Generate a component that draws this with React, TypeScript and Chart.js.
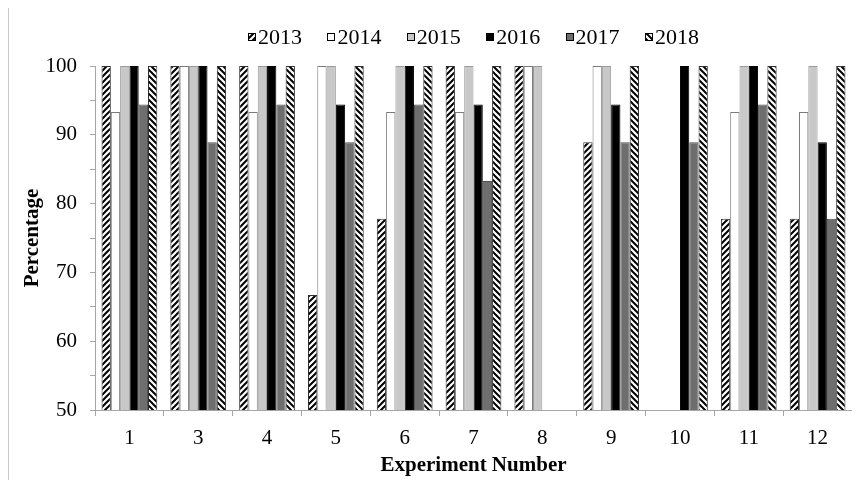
import React, { useEffect, useRef } from 'react';
import { Chart, registerables } from 'chart.js';

Chart.register(...registerables);

const categories = ['1', '3', '4', '5', '6', '7', '8', '9', '10', '11', '12'];
const seriesLabels = ['2013', '2014', '2015', '2016', '2017', '2018'];
const values2013 = [100, 100, 100, 66.7, 77.8, 100, 100, 88.9, null, 77.8, 77.8];
const values2014 = [93.3, 100, 93.3, 100, 93.3, 93.3, 100, 100, null, 93.3, 93.3];
const values2015 = [100, 100, 100, 100, 100, 100, 100, 100, null, 100, 100];
const values2016 = [100, 100, 100, 94.4, 100, 94.4, null, 94.4, 100, 100, 88.9];
const values2017 = [94.4, 88.9, 94.4, 88.9, 94.4, 83.3, null, 88.9, 88.9, 94.4, 77.8];
const values2018 = [100, 100, 100, 100, 100, 100, null, 100, 100, 100, 100];
const yMin = 50;
const yMax = 100;
const yStep = 5;
const yLabelStep = 10;

const FONT = '"Liberation Serif", "Times New Roman", serif';
const FS = 21;
const LEGEND_FS = 22;

function makeHatch(dir: 'fwd' | 'back'): CanvasPattern | string {
  const tile = document.createElement('canvas');
  tile.width = 6;
  tile.height = 6;
  const c = tile.getContext('2d');
  if (!c) return '#888';
  c.fillStyle = '#ffffff';
  c.fillRect(0, 0, 6, 6);
  c.strokeStyle = '#000000';
  c.lineWidth = 2;
  c.lineCap = 'square';
  const segs =
    dir === 'fwd'
      ? [[0, 6, 6, 0], [-3, 3, 3, -3], [3, 9, 9, 3]]
      : [[0, 0, 6, 6], [-3, 3, 3, 9], [3, -3, 9, 3]];
  segs.forEach(([x1, y1, x2, y2]) => {
    c.beginPath();
    c.moveTo(x1, y1);
    c.lineTo(x2, y2);
    c.stroke();
  });
  const p = c.createPattern(tile, 'repeat');
  return p || '#888';
}

const customLegend = {
  id: 'customLegend',
  afterDraw(chart: any) {
    const ctx = chart.ctx as CanvasRenderingContext2D;
    const { left, right } = chart.chartArea;
    ctx.save();
    ctx.font = `${LEGEND_FS}px ${FONT}`;
    const box = 8;
    const gap = 2;
    const totalSpan = 451;
    const items = chart.data.datasets.map((ds: any) => ({
      label: ds.label as string,
      fill: ds.backgroundColor,
    }));
    const widths = items.map((it: any) => box + gap + ctx.measureText(it.label).width);
    const sum = widths.reduce((a: number, b: number) => a + b, 0);
    const between = (totalSpan - sum) / (items.length - 1);
    let x = (left + right) / 2 - totalSpan / 2;
    const yc = 30;
    items.forEach((it: any, i: number) => {
      const bx = Math.round(x);
      const by = yc - 5;
      ctx.fillStyle = it.fill;
      ctx.fillRect(bx, by, box, box);
      ctx.strokeStyle = '#000000';
      ctx.lineWidth = 1;
      ctx.strokeRect(bx + 0.5, by + 0.5, box - 1, box - 1);
      ctx.fillStyle = '#000000';
      ctx.textBaseline = 'middle';
      ctx.textAlign = 'left';
      ctx.fillText(it.label, x + box + gap, yc);
      x += widths[i] + between;
    });
    ctx.restore();
  },
};

export default function App() {
  const ref = useRef<HTMLCanvasElement | null>(null);

  useEffect(() => {
    if (!ref.current) return;
    const fwd = makeHatch('fwd');
    const back = makeHatch('back');
    const seriesValues = [values2013, values2014, values2015, values2016, values2017, values2018];
    const fills = [fwd, '#ffffff', '#c8c8c8', '#000000', '#6e6e6e', back];
    const borders = ['#303030', '#7a7a7a', '#9a9a9a', '#000000', '#505050', '#303030'];

    const chart = new Chart(ref.current, {
      type: 'bar',
      data: {
        labels: categories,
        datasets: seriesLabels.map((lab, i) => ({
          label: lab,
          data: seriesValues[i],
          backgroundColor: fills[i] as any,
          borderColor: borders[i],
          borderWidth: 1,
          borderSkipped: 'start' as const,
          categoryPercentage: 0.81,
          barPercentage: 1,
        })),
      },
      options: {
        responsive: false,
        animation: false,
        layout: { padding: { left: 0, right: 8, top: 58, bottom: 0 } },
        plugins: {
          tooltip: { enabled: false },
          legend: { display: false },
        },
        scales: {
          x: {
            afterFit: (s: any) => {
              s.height = 70;
            },
            grid: {
              display: true,
              drawOnChartArea: false,
              drawTicks: true,
              tickLength: 6,
              color: '#a6a6a6',
              offset: true,
            },
            border: { display: true, color: '#a6a6a6', width: 1 },
            ticks: {
              color: '#000000',
              font: { family: FONT, size: FS },
              padding: 10,
              maxRotation: 0,
            },
            title: {
              display: true,
              text: 'Experiment Number',
              color: '#000000',
              font: { family: FONT, size: FS, weight: 'bold' },
              padding: { top: 0, bottom: 2 },
            },
          },
          y: {
            min: yMin,
            max: yMax,
            afterFit: (s: any) => {
              s.width = 86;
            },
            grid: {
              display: true,
              drawOnChartArea: false,
              drawTicks: true,
              tickLength: 5,
              color: '#a6a6a6',
            },
            border: { display: true, color: '#a6a6a6', width: 1 },
            ticks: {
              stepSize: yStep,
              color: '#000000',
              font: { family: FONT, size: FS },
              padding: 13,
              callback: (v: any) => (Number(v) % yLabelStep === 0 ? String(v) : ''),
            },
            title: {
              display: true,
              text: 'Percentage',
              color: '#000000',
              font: { family: FONT, size: FS, weight: 'bold' },
              padding: { top: 11, bottom: 0 },
            },
          },
        },
      },
      plugins: [customLegend],
    });
    return () => chart.destroy();
  }, []);

  return (
    <div
      style={{
        width: 860,
        height: 480,
        marginTop: -1,
        borderTop: '1px solid #c8c8c8',
        borderLeft: '1px solid #c8c8c8',
        boxSizing: 'border-box',
      }}
    >
      <canvas ref={ref} width={851} height={472} style={{ display: 'block', width: 851, height: 472 }} />
    </div>
  );
}
